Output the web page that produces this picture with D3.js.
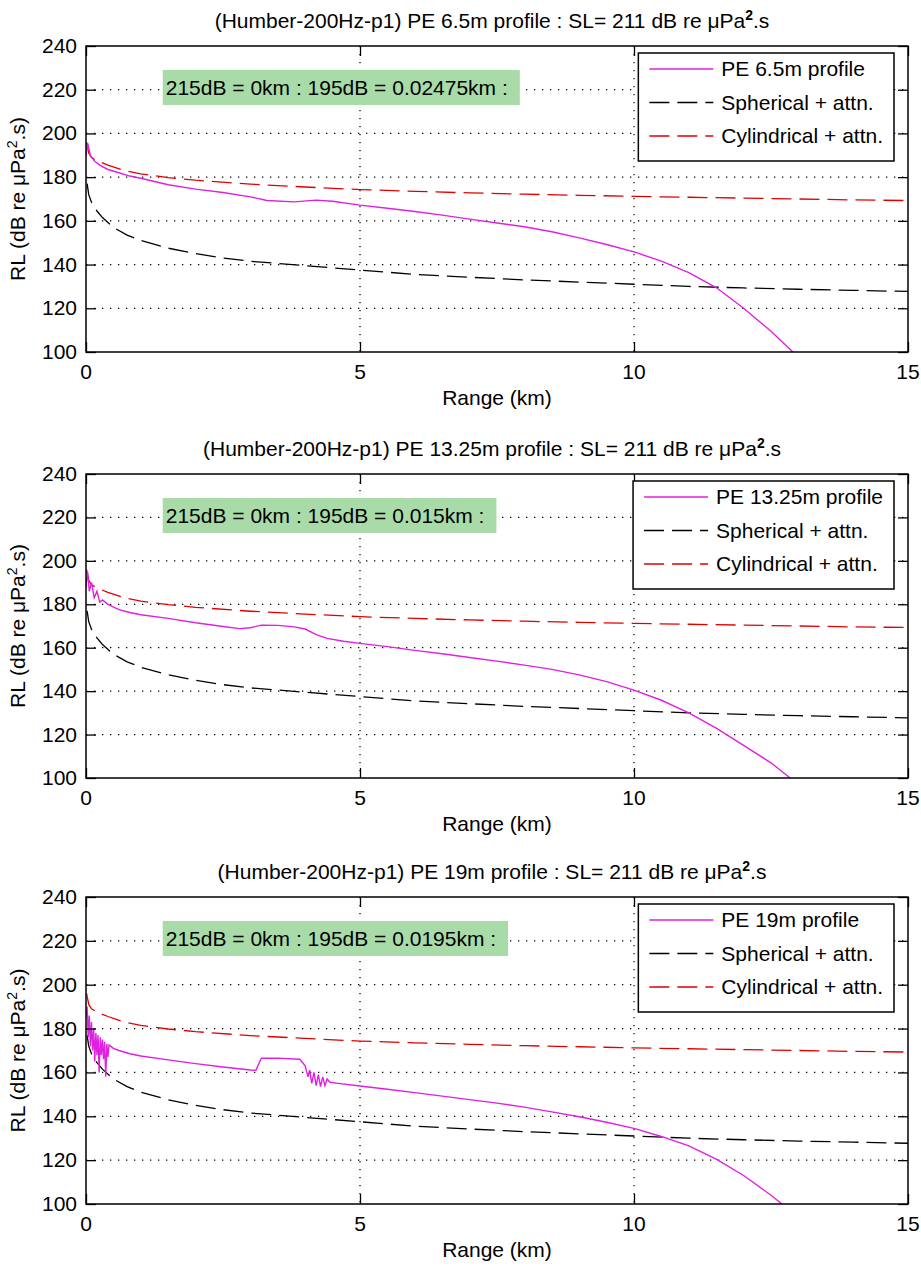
<html>
<script src='https://d3js.org/d3.v7.min.js'></script>
<style>
 body {margin:0; background:#fff;}
 text {font-family: 'Liberation Sans', Arial, sans-serif; fill:#000;}
</style>
<body onload='init()'>
<svg width=921 height=1268></svg>
<script>
// ---- data (km, dB) ----
var rangeTicks = [0, 5, 10, 15];
var rlTicks = [100, 120, 140, 160, 180, 200, 220, 240];

var sphericalAttn = [[0.02,177],[0.05,172],[0.1,168.5],[0.2,164.5],[0.3,161.5],[0.5,157],[0.75,153.5],[1.0,151],
  [1.5,147.5],[2.0,145],[2.5,143],[3.0,141.5],[3.5,140.5],[4.0,139.5],[5.0,137.5],[6.0,135.5],[7.0,134.2],
  [8.0,133],[9.0,132],[10.0,131],[11.0,130],[12.0,129.3],[13.0,128.7],[14.0,128.2],[15.0,127.7]];

var cylindricalAttn = [[0.01,196],[0.05,191],[0.1,189],[0.2,187.5],[0.4,185.5],[0.7,183],[1.0,181.5],[1.5,179.8],
  [2.0,178.6],[3.0,176.8],[4.0,175.5],[5.0,174.3],[6.0,173.5],[7.0,172.8],[8.0,172.2],[9.0,171.7],[10.0,171.2],
  [11.0,170.8],[12.0,170.4],[13.0,170],[14.0,169.6],[15.0,169.3]];

var pe6_5 = [[0,190],[0.03,195.5],[0.08,190],[0.15,187.5],[0.25,185.5],[0.4,183.5],[0.6,182],[0.8,180.5],[1.0,179.5],
  [1.5,176.5],[2.0,174.5],[2.5,173],[3.0,171],[3.3,169.3],[3.8,168.7],[4.2,169.5],[4.5,169],[5.0,167.2],[5.5,165.8],
  [6.0,164.3],[6.5,162.6],[7.0,160.8],[7.5,159],[8.0,157.3],[8.5,155],[9.0,152.2],[9.5,149.2],[10.0,145.8],
  [10.5,141.6],[11.0,136.3],[11.5,129.5],[12.0,120],[12.5,109.5],[12.9,100]];

var pe13_25 = [[0,188],[0.03,195],[0.06,186],[0.1,190],[0.15,183],[0.2,186],[0.25,181],[0.3,182],[0.4,180],
  [0.6,177.5],[0.8,176.2],[1.0,175.2],[1.5,173.5],[2.0,171.5],[2.5,169.8],[2.8,168.8],[3.0,169.2],[3.2,170.4],
  [3.5,170.3],[3.8,169.6],[4.0,168.6],[4.2,166],[4.4,164.3],[4.7,163],[5.0,162],[5.5,160.5],[6.0,158.8],[6.5,157.2],
  [7.0,155.5],[7.5,153.8],[8.0,152],[8.5,150],[9.0,147.5],[9.5,144.4],[10.0,140.5],[10.5,135.8],[11.0,130],
  [11.5,123],[12.0,115],[12.5,107],[12.85,100]];

var pe19 = [[0,185],[0.02,190],[0.04,176],[0.06,186],[0.08,172],[0.1,183],[0.12,170],[0.14,180],[0.16,165],[0.18,178],
  [0.2,168],[0.22,177],[0.24,160],[0.26,176],[0.28,168],[0.3,175],[0.32,166],[0.34,174],[0.36,158],[0.38,173],
  [0.4,167],[0.42,172.5],[0.45,172],[0.5,171],[0.6,170],[0.8,168.5],[1.0,167.5],[1.5,165.7],[2.0,164],
  [2.5,162.5],[3.0,161.1],[3.1,161],[3.2,166.5],[3.5,166.5],[3.9,166],[4.0,163],[4.05,158],[4.08,161],[4.12,155],
  [4.16,160],[4.2,154],[4.24,159],[4.28,153.5],[4.32,158],[4.36,154],[4.4,157],[4.45,155.5],[4.6,155],[5.0,153.8],
  [5.5,152.3],[6.0,150.8],[6.5,149.2],[7.0,147.6],[7.5,146],[8.0,144.2],[8.5,142],[9.0,139.8],[9.5,137.3],
  [10.0,134.5],[10.5,130.8],[11.0,126.5],[11.5,120.5],[12.0,113],[12.5,104],[12.7,100]];

var peSeries = [pe6_5, pe13_25, pe19];
var depthNames = ['6.5m', '13.25m', '19m'];
var noteTexts = ['215dB = 0km : 195dB = 0.02475km :', '215dB = 0km : 195dB = 0.015km :', '215dB = 0km : 195dB = 0.0195km :'];
var legendRest = ['Spherical + attn.', 'Cylindrical + attn.'];

function init() {
  var svg = d3.select('svg');
  var left = 86, right = 908;
  var panels = [{top:46, bottom:352}, {top:474, bottom:778}, {top:897, bottom:1204}];
  var fs = 21;

  panels.forEach(function(p, i) {
    var xs = d3.scaleLinear().domain([0,15]).range([left,right]);
    var ys = d3.scaleLinear().domain([100,240]).range([p.bottom,p.top]);
    var g = svg.append('g');

    g.append('clipPath').attr('id','clip'+i).append('rect')
      .attr('x',left).attr('y',p.top).attr('width',right-left).attr('height',p.bottom-p.top);

    // dotted grid
    g.selectAll('.hg').data(rlTicks.slice(1,-1)).enter().append('line')
      .attr('x1',left).attr('x2',right).attr('y1',ys).attr('y2',ys)
      .attr('stroke','#000').attr('stroke-width',1.2).attr('stroke-dasharray','1.3,6.7');
    g.selectAll('.vg').data(rangeTicks.slice(1,-1)).enter().append('line')
      .attr('y1',p.top).attr('y2',p.bottom).attr('x1',xs).attr('x2',xs)
      .attr('stroke','#000').attr('stroke-width',1.2).attr('stroke-dasharray','1.3,6.7');

    // green note
    var note = g.append('g');
    var nt = note.append('text').attr('x',xs(1.4)+3).attr('y',p.top+49)
      .attr('font-size',fs).text(noteTexts[i]);
    var bb = nt.node().getBBox();
    note.insert('rect','text').attr('x',xs(1.4)).attr('y',p.top+24)
      .attr('width',bb.width+15).attr('height',35).attr('fill','#a8dba8');

    // lines
    var line = d3.line().x(function(d){return xs(d[0]);}).y(function(d){return ys(d[1]);});
    var lg = g.append('g').attr('clip-path','url(#clip'+i+')').attr('fill','none');
    lg.append('path').datum(sphericalAttn).attr('d',line)
      .attr('stroke','#000').attr('stroke-width',1.3).attr('stroke-dasharray','20,8');
    lg.append('path').datum(cylindricalAttn).attr('d',line)
      .attr('stroke','#e00000').attr('stroke-width',1.3).attr('stroke-dasharray','20,8');
    lg.append('path').datum(peSeries[i]).attr('d',line)
      .attr('stroke','#e020e0').attr('stroke-width',1.4);

    // axes box and ticks (inward)
    g.append('rect').attr('x',left).attr('y',p.top).attr('width',right-left).attr('height',p.bottom-p.top)
      .attr('fill','none').attr('stroke','#000').attr('stroke-width',1.5);
    var yAxL = d3.axisRight(ys).tickValues(rlTicks).tickSize(10).tickFormat('');
    g.append('g').attr('transform','translate('+left+',0)').call(yAxL).call(function(a){a.select('.domain').remove();});
    var yAxR = d3.axisLeft(ys).tickValues(rlTicks).tickSize(10).tickFormat('');
    g.append('g').attr('transform','translate('+right+',0)').call(yAxR).call(function(a){a.select('.domain').remove();});
    var xAxB = d3.axisTop(xs).tickValues(rangeTicks).tickSize(10).tickFormat('');
    g.append('g').attr('transform','translate(0,'+p.bottom+')').call(xAxB).call(function(a){a.select('.domain').remove();});
    var xAxT = d3.axisBottom(xs).tickValues(rangeTicks).tickSize(10).tickFormat('');
    g.append('g').attr('transform','translate(0,'+p.top+')').call(xAxT).call(function(a){a.select('.domain').remove();});
    g.selectAll('.tick line').attr('stroke','#000').attr('stroke-width',1.3);

    // tick labels
    g.selectAll('.yl').data(rlTicks).enter().append('text')
      .attr('x',left-9).attr('y',function(d){return ys(d)+7;}).attr('text-anchor','end')
      .attr('font-size',fs).text(function(d){return d;});
    g.selectAll('.xl').data(rangeTicks).enter().append('text')
      .attr('x',xs).attr('y',p.bottom+27).attr('text-anchor','middle')
      .attr('font-size',fs).text(function(d){return d;});

    // axis titles
    g.append('text').attr('x',(left+right)/2).attr('y',p.bottom+53).attr('text-anchor','middle')
      .attr('font-size',fs).text('Range (km)');
    var yl = g.append('text').attr('transform','translate(25,'+((p.top+p.bottom)/2)+') rotate(-90)')
      .attr('text-anchor','middle').attr('font-size',fs);
    yl.append('tspan').text('RL (dB re \u03bcPa');
    yl.append('tspan').attr('dy',-8).attr('font-size',14).text('2');
    yl.append('tspan').attr('dy',8).text('.s)');

    // panel title
    var tt = g.append('text').attr('x',492).attr('y',p.top-18).attr('text-anchor','middle').attr('font-size',fs);
    tt.append('tspan').text('(Humber-200Hz-p1) PE ' + depthNames[i] + ' profile : SL= 211 dB re \u03bcPa');
    tt.append('tspan').attr('dy',-8).attr('font-size',14).attr('font-weight','bold').text('2');
    tt.append('tspan').attr('dy',8).text('.s');

    // legend
    var labels = ['PE ' + depthNames[i] + ' profile'].concat(legendRest);
    var leg = g.append('g');
    var tx = [];
    labels.forEach(function(l, k) {
      tx.push(leg.append('text').attr('y',p.top+30+k*33.5).attr('font-size',fs).text(l));
    });
    var maxW = d3.max(tx, function(t){return t.node().getBBox().width;});
    var lw = 11 + 64 + 8 + maxW + 11;
    var lx = right - 14 - lw;
    tx.forEach(function(t){ t.attr('x', lx + 83); });
    leg.insert('rect','text').attr('x',lx).attr('y',p.top+7).attr('width',lw).attr('height',108)
      .attr('fill','#fff').attr('stroke','#000').attr('stroke-width',1.5);
    var styles = [{c:'#e020e0',d:null},{c:'#000',d:'20,8'},{c:'#e00000',d:'20,8'}];
    styles.forEach(function(s, k) {
      var yy = p.top + 23 + k*33.5;
      leg.append('line').attr('x1',lx+11).attr('x2',lx+75).attr('y1',yy).attr('y2',yy)
        .attr('stroke',s.c).attr('stroke-width',1.4).attr('stroke-dasharray',s.d);
    });
  });
}
</script>
</body>
</html>
